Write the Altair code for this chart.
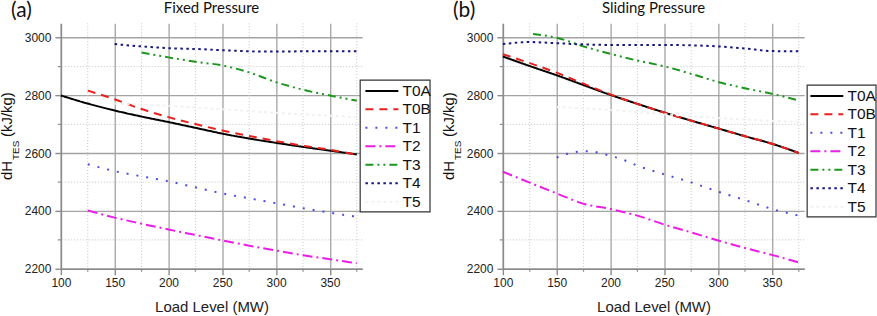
import altair as alt
import pandas as pd

# ---- series styling -------------------------------------------------------
series_names = ["T0A", "T0B", "T1", "T2", "T3", "T4", "T5"]
series_colors = ["#000000", "#e8201e", "#4c4ce0", "#ea1ee6", "#1e961e", "#16167e", "#f1f1f1"]
series_dashes = [[1, 0], [8, 6], [2, 8], [10, 4, 2, 4], [8, 4, 2, 4, 2, 4], [2.5, 3.5], [3, 3]]

# ---- (a) Fixed Pressure ---------------------------------------------------
fp_T0A_x = [100, 125, 150, 175, 200, 225, 250, 275, 300, 325, 350, 375]
fp_T0A_y = [2800, 2772, 2748, 2727, 2708, 2688, 2668, 2651, 2636, 2622, 2609, 2596]
fp_T0B_x = [125, 150, 175, 200, 225, 250, 275, 300, 325, 350, 375]
fp_T0B_y = [2817, 2787, 2753, 2725, 2701, 2679, 2660, 2642, 2626, 2612, 2595]
fp_T1_x = [125, 150, 175, 200, 225, 250, 275, 300, 325, 350, 375]
fp_T1_y = [2562, 2538, 2520, 2503, 2482, 2461, 2444, 2427, 2410, 2394, 2380]
fp_T2_x = [125, 150, 175, 200, 225, 250, 275, 300, 325, 350, 375]
fp_T2_y = [2402, 2377, 2356, 2336, 2317, 2298, 2280, 2263, 2247, 2233, 2219]
fp_T3_x = [175, 200, 225, 250, 275, 300, 325, 350, 375]
fp_T3_y = [2949, 2932, 2917, 2904, 2880, 2846, 2820, 2800, 2782]
fp_T4_x = [150, 175, 200, 225, 250, 275, 300, 325, 350, 375]
fp_T4_y = [2978, 2970, 2964, 2961, 2957, 2953, 2952, 2953, 2953, 2953]
fp_T5_x = [150, 200, 250, 300, 350, 375]
fp_T5_y = [2772, 2764, 2752, 2740, 2730, 2725]

# ---- (b) Sliding Pressure -------------------------------------------------
sp_T0A_x = [100, 125, 150, 175, 200, 225, 250, 275, 300, 325, 350, 375]
sp_T0A_y = [2935, 2902, 2870, 2836, 2802, 2771, 2741, 2713, 2686, 2659, 2633, 2601]
sp_T0B_x = [100, 125, 150, 175, 200, 225, 250, 275, 300, 325, 350, 375]
sp_T0B_y = [2943, 2912, 2879, 2841, 2804, 2771, 2741, 2713, 2686, 2659, 2633, 2601]
sp_T1_x = [150, 160, 170, 180, 190, 200, 210, 225, 250, 275, 300, 325, 350, 375]
sp_T1_y = [2585, 2598, 2605, 2607, 2601, 2591, 2580, 2557, 2527, 2499, 2467, 2438, 2407, 2384]
sp_T2_x = [100, 125, 150, 175, 200, 225, 250, 275, 300, 325, 350, 375]
sp_T2_y = [2536, 2498, 2461, 2425, 2407, 2384, 2353, 2326, 2298, 2272, 2248, 2222]
sp_T3_x = [128, 150, 175, 200, 225, 250, 275, 300, 325, 350, 375]
sp_T3_y = [3013, 3000, 2970, 2944, 2921, 2901, 2875, 2847, 2825, 2806, 2783]
sp_T4_x = [100, 125, 150, 175, 200, 250, 300, 325, 350, 375]
sp_T4_y = [2978, 2985, 2981, 2977, 2975, 2975, 2970, 2963, 2954, 2953]
sp_T5_x = [150, 200, 250, 300, 350, 375]
sp_T5_y = [2760, 2750, 2735, 2722, 2712, 2708]

# ---- axes ----------------------------------------------------------------
x_domain = [100, 380]
y_domain = [2200, 3050]
x_major = [100, 150, 200, 250, 300, 350]
y_major = [2200, 2400, 2600, 2800, 3000]
x_minor = [125, 175, 225, 275, 325, 375]
y_minor = [2300, 2500, 2700, 2900]

PLOT_W, PLOT_H = 302, 246
AXIS_GREY = "#8a8a8a"
SANS = "Liberation Sans, Arial, sans-serif"


def long_table(pairs):
    rows = []
    for name, xs, ys in pairs:
        for x, y in zip(xs, ys):
            rows.append({"load": x, "dh": y, "series": name})
    return pd.DataFrame(rows)


fixed_df = long_table([
    ("T0A", fp_T0A_x, fp_T0A_y), ("T0B", fp_T0B_x, fp_T0B_y),
    ("T1", fp_T1_x, fp_T1_y), ("T2", fp_T2_x, fp_T2_y),
    ("T3", fp_T3_x, fp_T3_y), ("T4", fp_T4_x, fp_T4_y),
    ("T5", fp_T5_x, fp_T5_y),
])
sliding_df = long_table([
    ("T0A", sp_T0A_x, sp_T0A_y), ("T0B", sp_T0B_x, sp_T0B_y),
    ("T1", sp_T1_x, sp_T1_y), ("T2", sp_T2_x, sp_T2_y),
    ("T3", sp_T3_x, sp_T3_y), ("T4", sp_T4_x, sp_T4_y),
    ("T5", sp_T5_x, sp_T5_y),
])

x_scale = alt.Scale(domain=x_domain, nice=False, zero=False)
y_scale = alt.Scale(domain=y_domain, nice=False, zero=False)


def panel(df, title, tag, legend_x, legend_y, frame):
    legend = alt.Legend(
        title=None, orient="none", legendX=legend_x, legendY=legend_y,
        padding=1, columnPadding=0,
        symbolType="M-3.3,0H3.3", symbolSize=100, symbolStrokeWidth=2,
        symbolOffset=9, labelOffset=13, rowPadding=1.5,
        labelFont=SANS, labelFontSize=15.5, labelColor="#111111",
    )

    minor_x = alt.Chart(pd.DataFrame({"v": x_minor})).mark_rule(
        color="#c4c4c4", strokeWidth=1, strokeDash=[1, 2]
    ).encode(x=alt.X("v:Q", scale=x_scale))
    minor_y = alt.Chart(pd.DataFrame({"v": y_minor})).mark_rule(
        color="#c4c4c4", strokeWidth=1, strokeDash=[1, 2]
    ).encode(y=alt.Y("v:Q", scale=y_scale))
    tick_x = alt.Chart(pd.DataFrame({"v": x_minor})).mark_rule(
        color=AXIS_GREY, strokeWidth=1.2
    ).encode(x=alt.X("v:Q", scale=x_scale), y=alt.value(PLOT_H), y2=alt.value(PLOT_H + 3))
    tick_y = alt.Chart(pd.DataFrame({"v": y_minor})).mark_rule(
        color=AXIS_GREY, strokeWidth=1.2
    ).encode(y=alt.Y("v:Q", scale=y_scale), x=alt.value(-3), x2=alt.value(0))

    lines = alt.Chart(df).mark_line(strokeWidth=2, interpolate="monotone").encode(
        x=alt.X("load:Q", scale=x_scale, axis=alt.Axis(
            values=x_major, title="Load Level (MW)", grid=True, format="d", labelFlush=False,
        )),
        y=alt.Y("dh:Q", scale=y_scale, axis=alt.Axis(
            values=y_major, title=None, grid=True, format="d", labelFlush=False,
        )),
        color=alt.Color("series:N", scale=alt.Scale(domain=series_names, range=series_colors),
                        legend=legend),
        strokeDash=alt.StrokeDash("series:N", scale=alt.Scale(domain=series_names, range=series_dashes),
                                  legend=legend),
        order=alt.Order("load:Q"),
    )

    # white boxed backdrop behind the legend entries
    fx0, fx1, fy0, fy1 = frame
    legend_box = alt.Chart(pd.DataFrame({"f": [0]})).mark_rect(
        fill="white", stroke="#333333", strokeWidth=1.2
    ).encode(x=alt.value(fx0), x2=alt.value(fx1), y=alt.value(fy0), y2=alt.value(fy1))

    # panel heading, panel tag and the y-axis title with its subscript
    def label(text, x, y, size, font, angle=0, align="left", baseline="alphabetic"):
        return alt.Chart(pd.DataFrame({"t": [text]})).mark_text(
            text=text, font=font, fontSize=size, angle=angle, align=align,
            baseline=baseline, color="#111111",
        ).encode(x=alt.value(x), y=alt.value(y))

    heading = label(title, PLOT_W / 2, -22, 15, "Lato", align="center", baseline="top")
    tag_mark = label(tag, -50, -23, 21, "Lato", baseline="top")
    ytitle_main = label("dH", -49, 157, 15, SANS, angle=270)
    ytitle_sub = label("TES", -42, 137, 10, SANS, angle=270)
    ytitle_unit = label("(kJ/kg)", -49, 114, 15, SANS, angle=270)

    return alt.layer(
        minor_x, minor_y, tick_x, tick_y, lines, legend_box,
        heading, tag_mark, ytitle_main, ytitle_sub, ytitle_unit,
    ).properties(width=PLOT_W, height=PLOT_H)


left = panel(fixed_df, "Fixed Pressure", "(a)", 304, 59, (300, 370, 57, 189))
right = panel(sliding_df, "Sliding Pressure", "(b)", 307, 64, (305, 374, 62, 194))

chart = alt.hconcat(left, right, spacing=141, bounds="flush").resolve_scale(
    color="independent", strokeDash="independent"
).resolve_legend(
    color="independent", strokeDash="independent"
).configure(
    background="white", padding={"left": 0, "top": 0, "right": 0, "bottom": 0}
).configure_view(
    stroke=None
).configure_axis(
    labelFont=SANS, labelFontSize=12, labelColor="#222222",
    titleFont=SANS, titleFontSize=15, titleColor="#222222", titleFontWeight="normal",
    domainColor=AXIS_GREY, domainWidth=1.6, tickColor=AXIS_GREY, tickWidth=1.4, tickSize=6,
    gridColor="#a3a3a3", gridWidth=1.3, labelPadding=3,
).configure_axisX(
    titlePadding=11,
).configure_axisY(
    labelPadding=4,
)

chart.save("out.html", embed_options={"renderer": "svg", "actions": False})
